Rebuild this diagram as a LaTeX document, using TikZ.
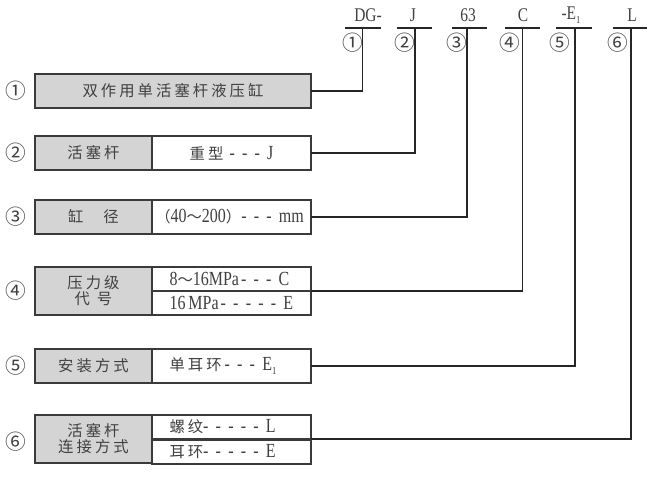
\documentclass[tikz,border=0pt]{standalone}
\usepackage{fontspec}
\setmainfont{Noto Sans CJK SC}
\newfontfamily\latf[FakeStretch=0.8]{Liberation Serif}
\newfontfamily\cjk[LetterSpace=20]{Noto Sans CJK SC}
\newcommand{\lat}{\latf\fontsize{15}{17}\selectfont}
\newcommand{\sub}[1]{\raisebox{-0.45ex}{\fontsize{8}{9}\selectfont #1}}
\newcommand{\dsh}{-\hspace{0.36em}}
\newcommand{\lt}[1]{\makebox[93pt][l]{#1}}
\definecolor{cellgrey}{HTML}{D4D4D4}
\definecolor{boxc}{HTML}{3A3A3A}
\definecolor{txt}{HTML}{404040}
\tikzset{
  cell/.style={draw=boxc, line width=1.1pt, inner sep=0pt, outer sep=0pt, anchor=north west,
    font=\fontsize{11.5}{13}\selectfont, text=txt, align=center},
  grey/.style={cell, fill=cellgrey},
  whitecell/.style={cell, fill=white},
  lw/.style={minimum width=87.75pt},
  rw/.style={minimum width=119.25pt},
  fh/.style={minimum height=25.5pt},
  hh/.style={minimum height=18pt},
  lefttext/.style={inner xsep=13pt},
  conn/.style={line width=0.8pt, draw=black!85},
  num/.style={font=\fontsize{15.5}{17}\selectfont, text=txt, inner sep=0pt},
  code/.style={font=\latf\fontsize{14.5}{16}\selectfont, text=txt, inner sep=0pt}
}
\begin{document}
\begin{tikzpicture}[x=0.75pt,y=-0.75pt]
\useasboundingbox (0,0) rectangle (652,478);
% top codes
\node[code] (c1) at (368,15) {DG-};
\node[code] (c2) at (413,15) {J};
\node[code] (c3) at (468,15) {63};
\node[code] (c4) at (523,15) {C};
\node[code] (c5) at (571,15) {-E\sub{1}};
\node[code] (c6) at (632,15) {L};
\coordinate (t1l) at (345,28); \coordinate (t1r) at (381,28); \coordinate (t1) at (362.7,28);
\coordinate (t2l) at (397,28); \coordinate (t2r) at (432,28); \coordinate (t2) at (415,28);
\coordinate (t3l) at (452,28); \coordinate (t3r) at (487,28); \coordinate (t3) at (467,28);
\coordinate (t4l) at (505,28); \coordinate (t4r) at (540,28); \coordinate (t4) at (522.7,28);
\coordinate (t5l) at (556,28); \coordinate (t5r) at (592,28); \coordinate (t5) at (575,28);
\coordinate (t6l) at (613,28); \coordinate (t6r) at (647,28); \coordinate (t6) at (631,28);
\foreach \i in {1,...,6} {\draw[conn] (t\i l) -- (t\i r);}
\node[num] (n1) at (352.7,43) {①};
\node[num] (n2) at (405,43) {②};
\node[num] (n3) at (456.7,43) {③};
\node[num] (n4) at (510,43) {④};
\node[num] (n5) at (560,43) {⑤};
\node[num] (n6) at (618,43) {⑥};
% left numbers
\node[num] (m1) at (16,91) {①};
\node[num] (m2) at (16,153) {②};
\node[num] (m3) at (16,217) {③};
\node[num] (m4) at (16,291) {④};
\node[num] (m5) at (16,366) {⑤};
\node[num] (m6) at (16,442) {⑥};
% boxes
\node[grey, minimum width=207pt, fh] (b1) at (35,74) {\cjk 双作用单活塞杆液压缸};
\node[grey, lw, fh] (l2) at (35,136) {\cjk 活塞杆};
\node[whitecell, rw, fh] (r2) at (152,136) {{\cjk 重型}\hspace{0.4em}{\lat \dsh\dsh\dsh J}};
\node[grey, lw, fh] (l3) at (35,200) {{\cjk 缸}\hspace{1.3em}{\cjk 径}};
\node[whitecell, rw, fh] (r3) at (152,200) {\hspace*{-3pt}（{\lat 40}～{\lat 200}）{\lat \dsh\dsh\dsh mm}};
\node[grey, lw, minimum height=36pt] (l4) at (35,267) {{\cjk 压力级}\\[-1pt]{\addfontfeature{LetterSpace=45}代号}};
\node[whitecell, rw, hh, lefttext] (r4a) at (152,267) {\lt{{\lat 8}～{\lat 16MPa\hspace{0.1em}\dsh\dsh\dsh C}}};
\node[whitecell, rw, hh, lefttext] (r4b) at (152,291) {\lt{\lat 16\hspace{0.15em}MPa\hspace{0.1em}\dsh\dsh\dsh\dsh\dsh E}};
\node[grey, lw, fh] (l5) at (35,349) {\cjk 安装方式};
\node[whitecell, rw, fh, lefttext] (r5) at (152,349) {\lt{{\cjk 单耳环}\hspace{0.2em}{\lat \dsh\dsh\dsh E\sub{1}}}};
\node[grey, lw, minimum height=36pt] (l6) at (35,415) {{\cjk 活塞杆}\\[-1pt]{\cjk 连接方式}};
\node[whitecell, rw, hh, lefttext] (r6a) at (152,415) {\lt{{\cjk 螺纹}{\lat \dsh\dsh\dsh\dsh\dsh L}}};
\node[whitecell, rw, hh, lefttext] (r6b) at (152,440) {\lt{{\cjk 耳环}{\lat \dsh\dsh\dsh\dsh\dsh E}}};
% connectors
\draw[conn] (b1.east) -| (t1);
\draw[conn] (r2.east) -| (t2);
\draw[conn] (r3.east) -| (t3);
\draw[conn] (r4a.south east) -| (t4);
\draw[conn] (r5.east) -| (t5);
\draw[conn] (r6a.south east) -| (t6);
\end{tikzpicture}
\end{document}
